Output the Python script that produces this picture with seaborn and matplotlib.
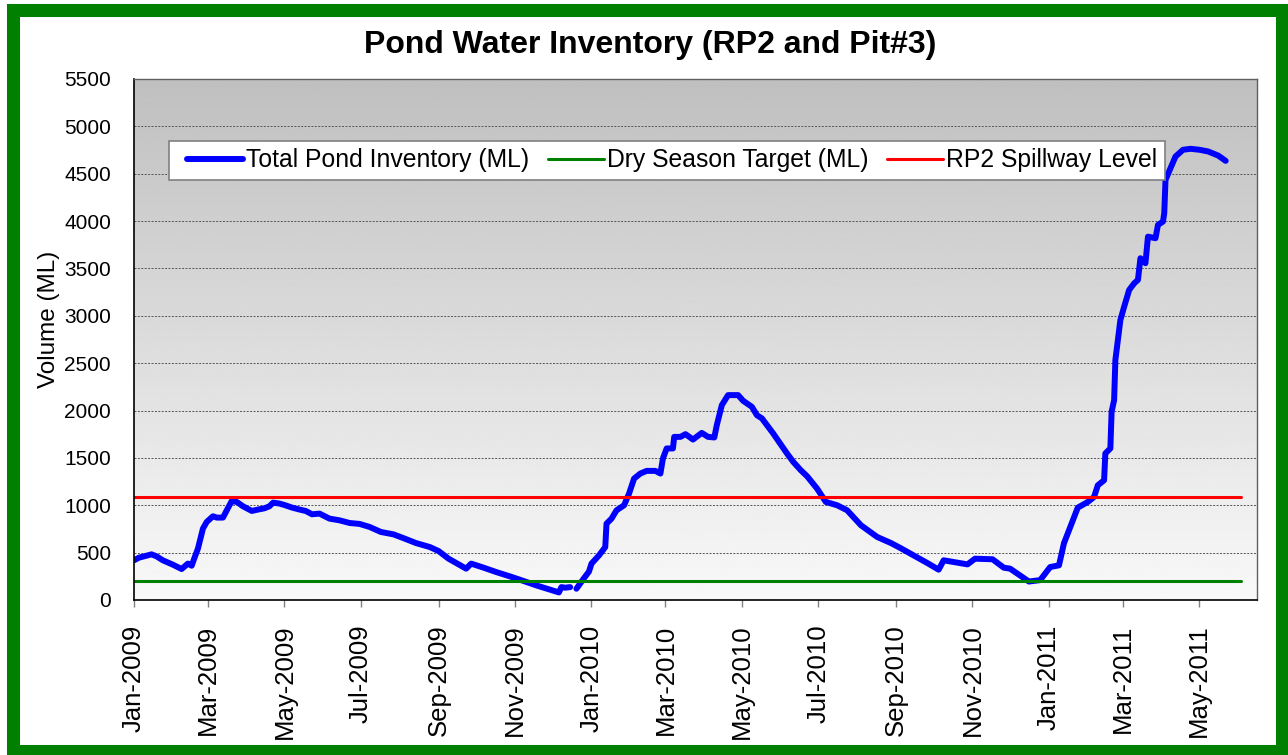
import numpy as np
import pandas as pd
import matplotlib
matplotlib.use("Agg")
import matplotlib.pyplot as plt
import matplotlib.dates as mdates
from matplotlib.patches import Rectangle
from matplotlib.lines import Line2D
from matplotlib.legend_handler import HandlerLine2D
import seaborn as sns

# values (days counted from 1 Jan 2009)
start_date = "2009-01-01"

seg1_days = [0, 4, 8, 14, 18, 23, 31, 38, 43, 46, 48, 51, 55, 58, 63, 66, 71, 74,
             78, 82, 87, 91, 94, 99, 104, 108, 111, 116, 120, 126, 132, 137, 142,
             148, 156, 164, 172, 180, 188, 197, 207, 216, 225, 236, 243, 251, 259,
             265, 269, 279, 289, 300, 311, 321, 332, 339, 341, 344, 348]
seg1_ml = [419, 447, 461, 482, 461, 419, 373, 327, 384, 362, 436, 542, 754, 824,
           884, 870, 870, 947, 1045, 1035, 989, 961, 940, 955, 968, 989, 1028,
           1018, 1003, 976, 955, 940, 905, 912, 859, 841, 813, 803, 771, 718, 693,
           648, 601, 559, 517, 436, 376, 331, 384, 341, 295, 249, 200, 154, 109,
           80, 136, 130, 136]

seg2_days = [353, 359, 363, 365, 371, 376, 377, 381, 385, 391, 395, 399, 404, 409,
             416, 420, 422, 425, 430, 431, 436, 440, 446, 453, 458, 463, 465, 469,
             474, 482, 486, 493, 497, 501, 510, 521, 526, 532, 537, 545, 552, 561,
             569, 580, 593, 604, 612, 622, 633, 642, 646, 665, 671, 685, 694, 699,
             714, 723, 731, 738, 742, 746, 753, 761, 766, 769, 774, 775, 779, 780,
             782, 783, 787, 790, 794, 798, 801, 803, 807, 809, 815, 817, 821, 822,
             823, 827, 831, 837, 843, 850, 857, 865, 871]
seg2_ml = [119, 230, 300, 384, 471, 559, 806, 859, 947, 1000, 1124, 1282, 1335,
           1363, 1363, 1335, 1494, 1600, 1600, 1722, 1722, 1751, 1694, 1764, 1722,
           1716, 1846, 2057, 2163, 2163, 2103, 2039, 1951, 1917, 1758, 1547, 1458,
           1370, 1307, 1176, 1035, 1000, 947, 789, 665, 601, 545, 471, 390, 320,
           419, 376, 436, 430, 341, 331, 195, 210, 348, 366, 600, 736, 975, 1035,
           1088, 1211, 1264, 1547, 1600, 1987, 2110, 2533, 2956, 3096, 3273, 3343,
           3379, 3608, 3555, 3836, 3819, 3960, 3995, 4084, 4435, 4559, 4682, 4753,
           4763, 4753, 4735, 4692, 4636]

level_dates = ["2009-01-01", "2011-06-03"]
dry_target = [200, 200]
spillway = [1090, 1090]

series_labels = ["Total Pond Inventory (ML)", "Dry Season Target (ML)", "RP2 Spillway Level"]
y_ticks = list(range(0, 5501, 500))

base = pd.Timestamp(start_date)
seg1 = pd.DataFrame({"date": base + pd.to_timedelta(seg1_days, unit="D"), "ml": seg1_ml})
seg2 = pd.DataFrame({"date": base + pd.to_timedelta(seg2_days, unit="D"), "ml": seg2_ml})
levels = pd.DataFrame({"date": pd.to_datetime(level_dates), "dry": dry_target, "spill": spillway})

sns.set_style("white")
plt.rcParams["font.family"] = ["Liberation Sans", "DejaVu Sans"]
plt.rcParams["text.color"] = "black"
plt.rcParams["xtick.color"] = "black"
plt.rcParams["ytick.color"] = "black"
plt.rcParams["axes.labelcolor"] = "black"

fig = plt.figure(figsize=(12.88, 7.55), dpi=100)
ax = fig.add_axes([0.10404, 0.2053, 0.87189, 0.69007])

# series
line_kw = dict(color="#0000FF", linewidth=4.3, solid_capstyle="round", solid_joinstyle="round")
sns.lineplot(data=seg1, x="date", y="ml", ax=ax, label=series_labels[0], **line_kw)
sns.lineplot(data=seg2, x="date", y="ml", ax=ax, label="_nolegend_", **line_kw)
sns.lineplot(data=levels, x="date", y="dry", ax=ax, color="#008000", linewidth=2.2,
             label=series_labels[1])
sns.lineplot(data=levels, x="date", y="spill", ax=ax, color="#FF0000", linewidth=2.2,
             label=series_labels[2])

# grey-to-white gradient like the excel plot area
grad = np.linspace(0.75, 0.975, 256).reshape(-1, 1)
ax.set_autoscale_on(False)
ax.imshow(grad, cmap="gray", vmin=0, vmax=1, aspect="auto", extent=[0, 1, 0, 1],
          transform=ax.transAxes, zorder=0, origin="upper")

ax.set_xlim(pd.Timestamp("2009-01-01"), pd.Timestamp("2011-06-16"))
ax.set_ylim(0, 5500)
ax.set_yticks(y_ticks)
ax.yaxis.grid(True, color="#555555", linestyle=(0, (2, 1.5)), linewidth=0.7)
ax.xaxis.grid(False)
ax.set_axisbelow(True)

ax.xaxis.set_major_locator(mdates.MonthLocator(bymonth=[1, 3, 5, 7, 9, 11]))
ax.xaxis.set_major_formatter(mdates.DateFormatter("%b-%Y"))
ax.tick_params(axis="x", labelsize=18.5, labelrotation=90, length=5, width=1,
               color="#808080", labelcolor="black", pad=12.5, bottom=True, direction="out")
ax.tick_params(axis="y", labelsize=15, length=0, pad=16.5, labelcolor="black")
ax.set_xlabel("")
ax.set_ylabel("")

for side in ["left", "bottom"]:
    ax.spines[side].set_color("black")
    ax.spines[side].set_linewidth(1.2)
for side in ["top", "right"]:
    ax.spines[side].set_color("#606060")
    ax.spines[side].set_linewidth(1.0)

handles, labels = ax.get_legend_handles_labels()
leg = ax.legend(handles, labels, ncol=3, loc="upper left", bbox_to_anchor=(0.031, 0.881),
                fontsize=17.8, frameon=True, fancybox=False, framealpha=1,
                edgecolor="#808080", handlelength=2.72, handletextpad=0.12,
                columnspacing=0.3, borderpad=0.3, borderaxespad=0,
                handler_map={Line2D: HandlerLine2D(xpad=0.45)})
leg.get_frame().set_linewidth(1.2)

fig.text(0.5047, 0.9298, "Pond Water Inventory (RP2 and Pit#3)", fontsize=23,
         fontweight="bold", ha="center", va="baseline")
fig.text(49 / 1288, 1 - 319 / 755, "Volume (ML)", fontsize=17.5, rotation=90,
         ha="center", va="center")

# green frame around the whole chart
fig.patches.append(Rectangle((13 / 1288, 4 / 755), 1269 / 1288, 741 / 755,
                             transform=fig.transFigure, fill=False,
                             edgecolor="#008000", linewidth=9.4))

fig.savefig("out.png", dpi=100)
